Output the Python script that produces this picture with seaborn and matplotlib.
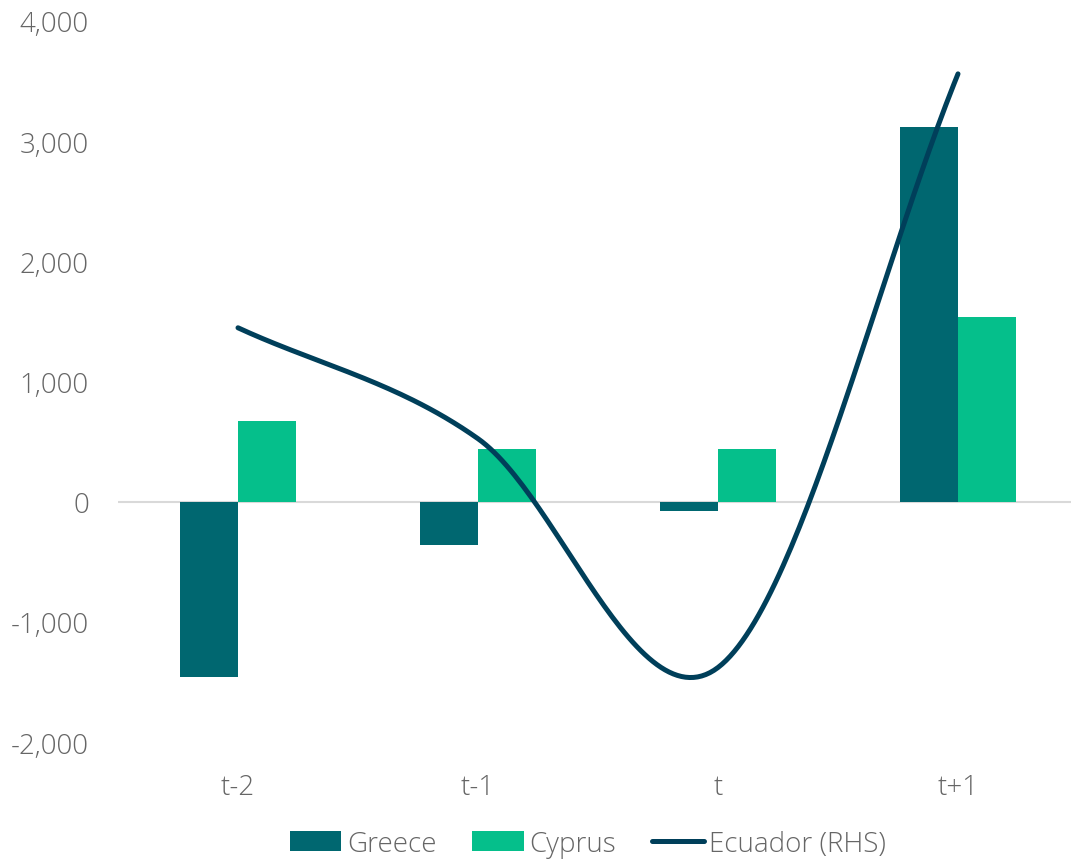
import numpy as np
import pandas as pd
import matplotlib
matplotlib.use("Agg")
import matplotlib.pyplot as plt
import seaborn as sns
from matplotlib.patches import Patch
from matplotlib.lines import Line2D

categories = ["t-2", "t-1", "t", "t+1"]
greece = [-1455, -358, -75, 3118]
cyprus = [674, 441, 441, 1538]
ecuador = [1447, 524, -1380, 3560]

sns.set_theme(style="white")
plt.rcParams["font.family"] = ["Open Sans", "DejaVu Sans"]
plt.rcParams["font.weight"] = "light"

text_color = "#666666"
c_greece = "#006770"
c_cyprus = "#05BF8B"
c_line = "#003F5A"

df = pd.DataFrame({
    "period": categories * 2,
    "value": greece + cyprus,
    "series": ["Greece"] * 4 + ["Cyprus"] * 4,
})

W, H = 1071, 862
fig = plt.figure(figsize=(W / 100, H / 100), dpi=100)
ax = fig.add_axes([118 / W, 1 - 743 / H, (W - 118) / W, 721 / H])

sns.barplot(data=df, x="period", y="value", hue="series", order=categories,
            hue_order=["Greece", "Cyprus"], palette=[c_greece, c_cyprus],
            width=0.48, ax=ax, legend=False, saturation=1, linewidth=0)

# smoothed line (Catmull-Rom, like spreadsheet smoothing)
xs = np.arange(len(categories), dtype=float)
ys = np.array(ecuador, dtype=float)
px = np.concatenate([[2 * xs[0] - xs[1]], xs, [2 * xs[-1] - xs[-2]]])
py = np.concatenate([[2 * ys[0] - ys[1]], ys, [2 * ys[-1] - ys[-2]]])
cx, cy = [], []
for i in range(1, len(px) - 2):
    t = np.linspace(0, 1, 60)
    for P, out in ((px, cx), (py, cy)):
        p0, p1, p2, p3 = P[i - 1], P[i], P[i + 1], P[i + 2]
        m1 = (p2 - p0) / 2
        m2 = (p3 - p1) / 2
        h00 = 2 * t**3 - 3 * t**2 + 1
        h10 = t**3 - 2 * t**2 + t
        h01 = -2 * t**3 + 3 * t**2
        h11 = t**3 - t**2
        out.extend(h00 * p1 + h10 * m1 + h01 * p2 + h11 * m2)
ax.plot(cx, cy, color=c_line, lw=3.6, solid_capstyle="round", zorder=5)

ax.axhline(0, color="#d9d9d9", lw=1.5, zorder=0)
ax.set_ylim(-2000, 4000)
ax.set_xlim(-0.5, -0.5 + (W - 118) / 240)
ax.set_yticks(range(-2000, 4001, 1000))
ax.set_yticklabels([f"{v:,}" for v in range(-2000, 4001, 1000)])
ax.tick_params(axis="y", length=0, pad=21, labelsize=20, labelcolor=text_color)
ax.tick_params(axis="x", length=0, pad=22, labelsize=20, labelcolor=text_color)
ax.set_xlabel("")
ax.set_ylabel("")
for s in ax.spines.values():
    s.set_visible(False)

handles = [
    Patch(facecolor=c_greece, edgecolor="none"),
    Patch(facecolor=c_cyprus, edgecolor="none"),
    Line2D([0], [0], color=c_line, lw=3.6, solid_capstyle="round"),
]
leg = fig.legend(handles, ["Greece", "Cyprus", "Ecuador (RHS)"], loc="center",
                 bbox_to_anchor=(588 / W, 1 - 845 / H), ncol=3, frameon=False,
                 fontsize=20, handlelength=1.85, handleheight=0.75,
                 handletextpad=0.2, columnspacing=1.3, labelcolor=text_color)

fig.savefig("out.png", dpi=100)
